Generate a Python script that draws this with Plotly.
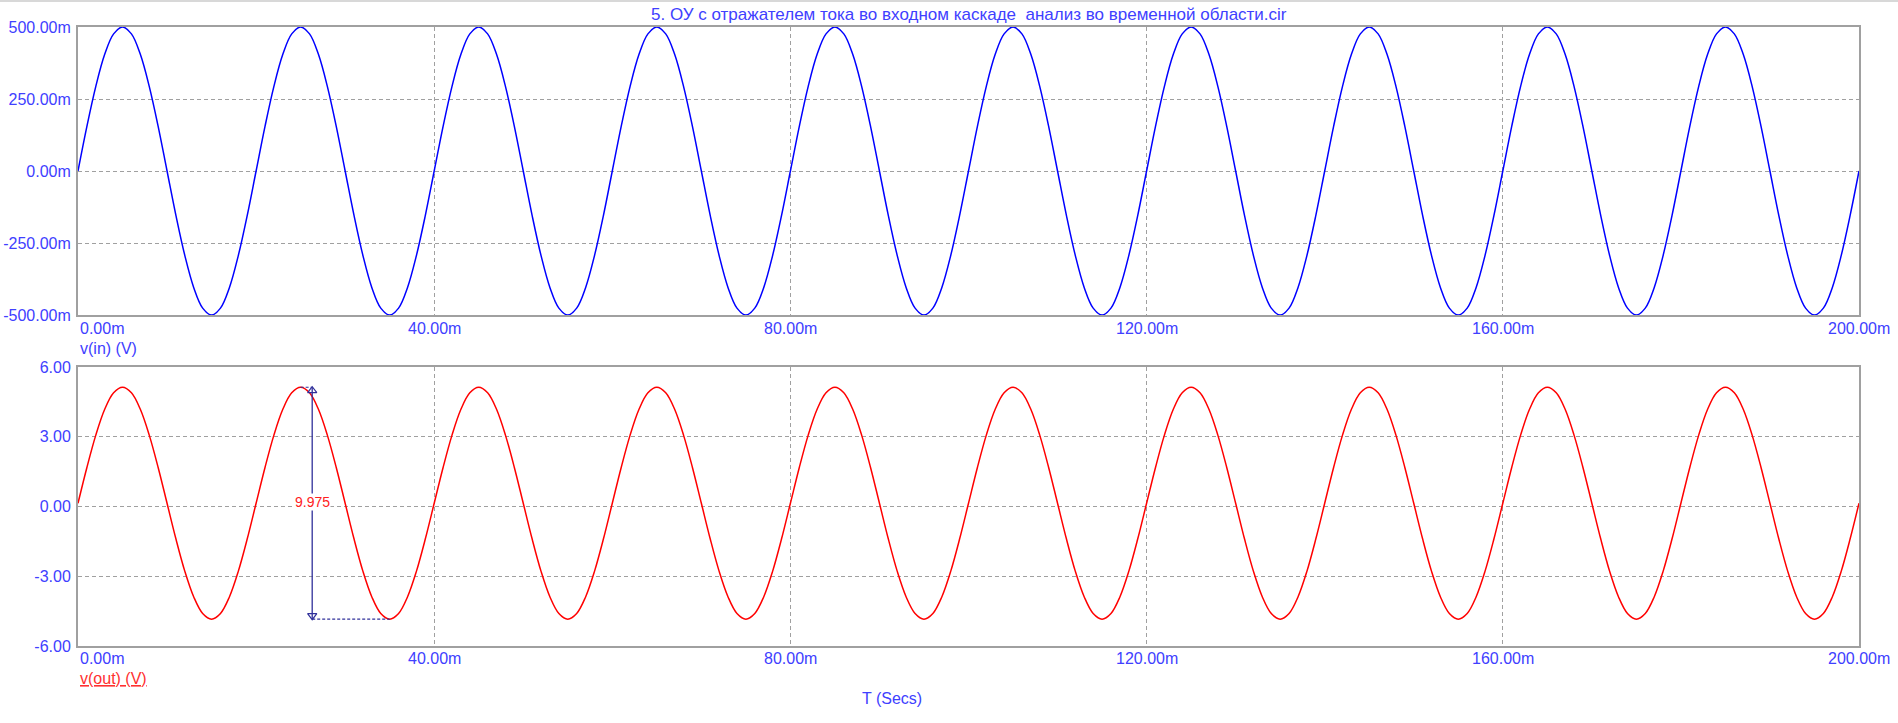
import plotly.graph_objects as go

# ---- data ----
period_ms = 20
n_cycles = 10
# one period of v(in), sampled every 1 ms (mV)
vin_cycle_mV = [0, 155, 294, 405, 476, 500, 476, 405, 294, 155,
                0, -155, -294, -405, -476, -500, -476, -405, -294, -155]
# one period of v(out), sampled every 1 ms (V)
vout_cycle_V = [0.14, 1.68, 3.07, 4.18, 4.89, 5.13, 4.89, 4.18, 3.07, 1.68,
                0.14, -1.40, -2.79, -3.89, -4.60, -4.845, -4.60, -3.89, -2.79, -1.40]

t_ms = list(range(0, period_ms * n_cycles + 1))
vin = [v / 1000 for v in vin_cycle_mV * n_cycles] + [vin_cycle_mV[0] / 1000]
vout = vout_cycle_V * n_cycles + [vout_cycle_V[0]]

x_ticks = [0, 40, 80, 120, 160, 200]
x_tick_labels = ["0.00m", "40.00m", "80.00m", "120.00m", "160.00m", "200.00m"]
y1_ticks = [-0.5, -0.25, 0, 0.25, 0.5]
y1_tick_labels = ["-500.00m", "-250.00m", "0.00m", "250.00m", "500.00m"]
y2_ticks = [-6, -3, 0, 3, 6]
y2_tick_labels = ["-6.00", "-3.00", "0.00", "3.00", "6.00"]

cursor_t = 26.3      # ms, measurement cursor
peak_t = 25.0        # ms
trough_t = 35.0      # ms
peak_v = max(vout_cycle_V)
trough_v = min(vout_cycle_V)

title = "5. ОУ с отражателем тока во входном каскаде  анализ во временной области.cir"

# ---- layout geometry ----
W, H = 1898, 723
L, R, T, B = 78, 1859, 27, 646
def py(p):
    return (B - p) / (B - T)
def px(p):
    return (p - L) / (R - L)

BLUE_TXT = "#4040ff"
GRID = "#a0a0a0"
FONT = "Arial, Liberation Sans, sans-serif"
FS = 16

fig = go.Figure()
fig.add_trace(go.Scatter(x=t_ms, y=vin, mode="lines", line=dict(color="#0000ff", width=1.5, shape="spline"),
                         xaxis="x", yaxis="y", hoverinfo="skip"))
fig.add_trace(go.Scatter(x=t_ms, y=vout, mode="lines", line=dict(color="#ff0000", width=1.5, shape="spline"),
                         xaxis="x2", yaxis="y2", hoverinfo="skip"))

NAVY = "#30309a"
# measurement cursor
fig.add_trace(go.Scatter(x=[cursor_t, cursor_t], y=[peak_v, trough_v], mode="lines",
                         line=dict(color=NAVY, width=1.3), xaxis="x2", yaxis="y2", hoverinfo="skip"))
fig.add_trace(go.Scatter(x=[peak_t, cursor_t], y=[peak_v, peak_v], mode="lines",
                         line=dict(color=NAVY, width=1.2, dash="3px,2px"), xaxis="x2", yaxis="y2", hoverinfo="skip"))
fig.add_trace(go.Scatter(x=[cursor_t, trough_t], y=[trough_v, trough_v], mode="lines",
                         line=dict(color=NAVY, width=1.2, dash="3px,2px"), xaxis="x2", yaxis="y2", hoverinfo="skip"))
fig.add_trace(go.Scatter(x=[cursor_t], y=[peak_v - 0.15], mode="markers",
                         marker=dict(symbol="triangle-up-open", size=8, color=NAVY, line=dict(width=1.2)),
                         xaxis="x2", yaxis="y2", hoverinfo="skip"))
fig.add_trace(go.Scatter(x=[cursor_t], y=[trough_v + 0.15], mode="markers",
                         marker=dict(symbol="triangle-down-open", size=8, color=NAVY, line=dict(width=1.2)),
                         xaxis="x2", yaxis="y2", hoverinfo="skip"))

annotations = []
annotations.append(dict(x=cursor_t, y=(peak_v + trough_v) / 2 + 0.05, xref="x2", yref="y2",
                        text=f"{peak_v - trough_v:.3f}", showarrow=False,
                        font=dict(color="#ff2020", size=14, family=FONT), bgcolor="white",
                        borderpad=0))

# x tick labels under each panel
for xr, ypix in (("x", 328), ("x2", 658)):
    for i, (tv, tl) in enumerate(zip(x_ticks, x_tick_labels)):
        annotations.append(dict(x=tv, y=py(ypix), xref=xr, yref="paper", text=tl, showarrow=False,
                                xanchor="left" if i == 0 else "center", yanchor="middle",
                                font=dict(color=BLUE_TXT, size=FS, family=FONT)))

annotations.append(dict(x=0, y=py(348), xref="paper", yref="paper", text="v(in) (V)", showarrow=False,
                        xanchor="left", yanchor="middle", font=dict(color=BLUE_TXT, size=FS, family=FONT)))
annotations.append(dict(x=0, y=py(678), xref="paper", yref="paper", text="<u>v(out) (V)</u>", showarrow=False,
                        xanchor="left", yanchor="middle", font=dict(color="#ff3030", size=FS, family=FONT)))
annotations.append(dict(x=px(892), y=py(698), xref="paper", yref="paper", text="T (Secs)", showarrow=False,
                        xanchor="center", yanchor="middle", font=dict(color=BLUE_TXT, size=FS, family=FONT)))
annotations.append(dict(x=0.5, y=py(15), xref="paper", yref="paper", text=title, showarrow=False,
                        xanchor="center", yanchor="middle", font=dict(color=BLUE_TXT, size=17, family=FONT)))

xaxis_common = dict(range=[0, 200], tickvals=x_ticks, showticklabels=False, ticks="", automargin=False,
                    showgrid=True, gridcolor=GRID, griddash="4px,3px", gridwidth=1,
                    zeroline=False, showline=True, linecolor=GRID, linewidth=2, mirror=True, fixedrange=True)
yaxis_common = dict(ticks="", showgrid=True, gridcolor=GRID, griddash="4px,3px", gridwidth=1,
                    automargin=False, ticklabelstandoff=2,
                    zeroline=False, showline=True, linecolor=GRID, linewidth=2, mirror=True,
                    tickfont=dict(color=BLUE_TXT, size=FS, family=FONT), fixedrange=True)

fig.update_layout(
    width=W, height=H,
    margin=dict(l=L, r=W - R, t=T, b=H - B, pad=0, autoexpand=False),
    paper_bgcolor="white", plot_bgcolor="white",
    showlegend=False,
    xaxis=dict(**xaxis_common, anchor="y"),
    xaxis2=dict(**xaxis_common, anchor="y2"),
    yaxis=dict(**yaxis_common, domain=[py(315), 1], range=[-0.5, 0.5],
               tickvals=y1_ticks, ticktext=y1_tick_labels, anchor="x"),
    yaxis2=dict(**yaxis_common, domain=[0, py(367)], range=[-6, 6],
                tickvals=y2_ticks, ticktext=y2_tick_labels, anchor="x2"),
    annotations=annotations,
    shapes=[dict(type="line", xref="paper", yref="paper", x0=-L / (R - L), x1=(W - L) / (R - L),
                 y0=py(1), y1=py(1), line=dict(color="#d8d8d8", width=2))],
)

fig.write_html("out.html", config={"displayModeBar": False},
               post_script="document.body.style.margin='0';document.body.style.overflow='hidden';")
